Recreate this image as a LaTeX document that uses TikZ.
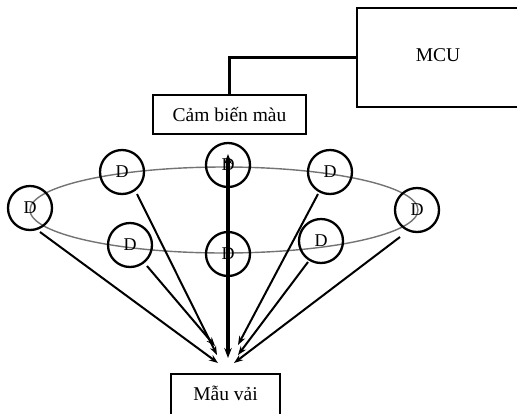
\documentclass[tikz,border=0pt]{standalone}
\usepackage{fontspec}
\setmainfont{Liberation Serif}
\usetikzlibrary{arrows.meta}
\begin{document}
\begin{tikzpicture}[x=1pt,y=-1pt,
  box/.style={draw=black, line width=2.8pt, fill=white, inner sep=0pt, font=\fontsize{19.5}{22}\selectfont},
  dnode/.style={draw=black, circle, line width=2.3pt, minimum size=44pt, inner sep=0pt, font=\fontsize{18}{20}\selectfont},
  ray/.style={line width=2pt, -{Stealth[length=9pt,width=6.5pt]}},
  link/.style={line width=2.8pt}]
\useasboundingbox (0,0) rectangle (517,413);
\clip (0,0) rectangle (517,413);
% boxes
\node[box, minimum width=162pt, minimum height=99pt] (mcu) at (438,57.5) {\raisebox{5pt}{MCU}};
\node[box, minimum width=153pt, minimum height=39pt] (sensor) at (229.5,114.5) {Cảm biến màu};
\node[box, minimum width=109pt, minimum height=42pt] (sample) at (225.5,395) {\raisebox{3pt}{Mẫu vải}};
\draw[link] (mcu.west) -| (sensor.north);
% ellipse
\draw[black!55, line width=1.4pt] (224,210) ellipse [x radius=194, y radius=43];
% emitters
\node[dnode] (c1) at (30,208) {D};
\node[dnode] (c2) at (122,172) {D};
\node[dnode] (c3) at (228,165) {D};
\node[dnode] (c4) at (130,245) {D};
\node[dnode] (c5) at (228,254) {D};
\node[dnode] (c6) at (330,172) {D};
\node[dnode] (c7) at (417,210) {D};
\node[dnode] (c8) at (321,241) {D};
% ray start and end points
\coordinate (s1) at (40,232);
\coordinate (s2) at (137,194);
\coordinate (s4) at (147,266);
\coordinate (s6) at (318,194);
\coordinate (s8) at (308,262);
\coordinate (s7) at (400,237);
\coordinate (e1) at (218,363);
\coordinate (e2) at (217,355);
\coordinate (e4) at (215,346);
\coordinate (e6) at (238,345);
\coordinate (e8) at (238,355);
\coordinate (e7) at (234,363);
\coordinate (ct) at (228,154);
\coordinate (cb) at (228,358);
\draw[ray] (s1) -- (e1);
\draw[ray] (s2) -- (e2);
\draw[ray] (s4) -- (e4);
\draw[ray] (s6) -- (e6);
\draw[ray] (s8) -- (e8);
\draw[ray] (s7) -- (e7);
\draw[line width=3.2pt, {Stealth[length=10pt,width=7.5pt]}-{Stealth[length=10pt,width=7.5pt]}] (ct) -- (cb);
\end{tikzpicture}
\end{document}
